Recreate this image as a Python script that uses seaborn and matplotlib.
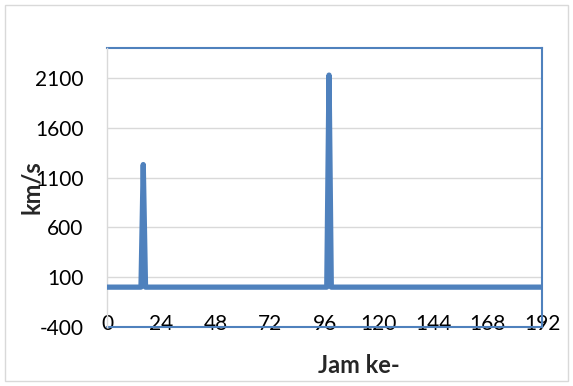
import numpy as np
import pandas as pd
import matplotlib
matplotlib.use("Agg")
import matplotlib.pyplot as plt
import seaborn as sns
from matplotlib.patches import Rectangle

# Hourly readings (hour 0 .. 192); flat near zero except two short bursts
hours = list(range(0, 193))
baseline_kms = 0
burst_hours = [16, 98]
burst_kms = [1230, 2128]

x_ticks = [0, 24, 48, 72, 96, 120, 144, 168, 192]
y_ticks = [-400, 100, 600, 1100, 1600, 2100]

speed = [baseline_kms] * len(hours)
for h, v in zip(burst_hours, burst_kms):
    speed[hours.index(h)] = v
df = pd.DataFrame({"Jam": hours, "kms": speed})

sns.set_theme(style="white")
plt.rcParams["font.family"] = ["Lato", "DejaVu Sans"]

BLUE = "#4f81bd"
GRID = "#d9d9d9"

fig = plt.figure(figsize=(5.73, 3.86), dpi=100)
fig.patch.set_facecolor("white")
fig.patches.append(Rectangle((5 / 573, 1 - 381 / 386), 563 / 573, 376 / 386,
                             transform=fig.transFigure, fill=False,
                             edgecolor=GRID, linewidth=1.0))

ax = fig.add_axes([107 / 573, 1 - 327 / 386, (542 - 107) / 573, (327 - 48) / 386])

sns.lineplot(data=df, x="Jam", y="kms", ax=ax, color=BLUE, linewidth=3.8,
             solid_joinstyle="round", solid_capstyle="butt", zorder=3)

ax.set_xlim(0, 192)
ax.set_ylim(-400, 2400)
ax.set_xticks(x_ticks)
ax.set_yticks(y_ticks)
ax.set_xticklabels([str(t) for t in x_ticks])
ax.set_yticklabels([str(t) for t in y_ticks])

ax.yaxis.grid(True, color=GRID, linewidth=1.0, zorder=0)
ax.xaxis.grid(False)
ax.set_axisbelow(True)

for side in ("top", "right", "bottom"):
    ax.spines[side].set_color(BLUE)
    ax.spines[side].set_linewidth(1.5)
    ax.spines[side].set_zorder(2)
ax.spines["left"].set_color(GRID)
ax.spines["left"].set_linewidth(1.0)

ax.tick_params(axis="y", length=0, pad=17, labelsize=15, labelcolor="black")
ax.tick_params(axis="x", length=0, pad=-9, labelsize=15, labelcolor="black")

ax.set_xlabel("Jam ke-", fontsize=17, fontweight="bold")
ax.xaxis.set_label_coords((359 - 107) / 435, (327 - 354) / 279)
ax.set_ylabel("km/s", fontsize=17, fontweight="bold", labelpad=-6)

fig.savefig("out.png", dpi=100, facecolor="white")
